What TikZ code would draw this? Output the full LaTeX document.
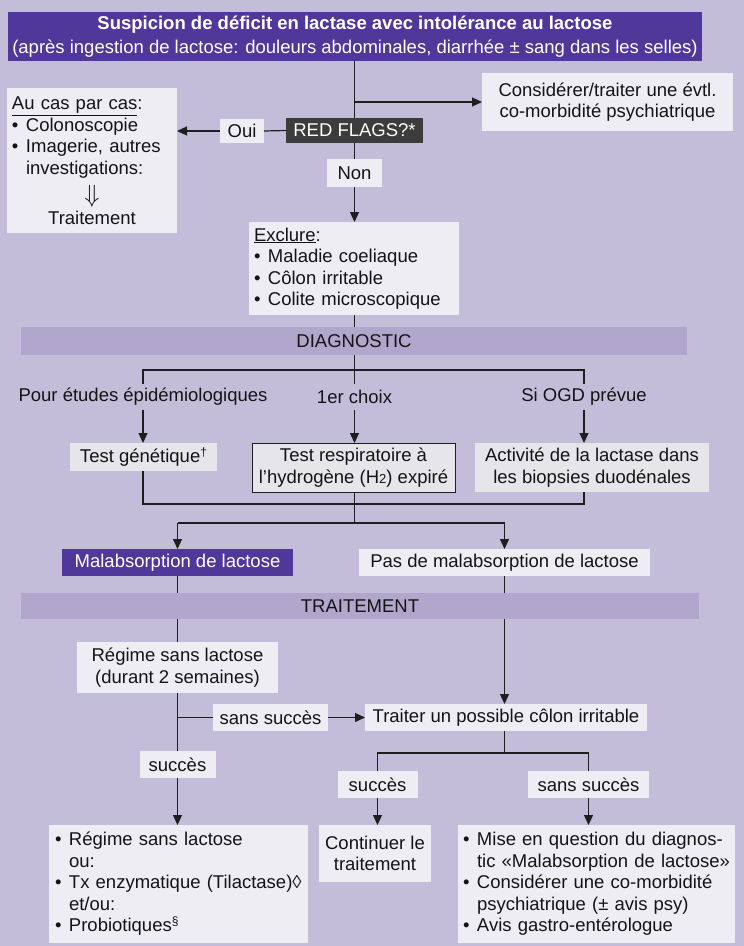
\documentclass[tikz,border=0pt]{standalone}
\usepackage{fontspec}
\setmainfont{Liberation Sans}
\usetikzlibrary{arrows.meta,calc}
\definecolor{bgc}{HTML}{C4BDDA}
\definecolor{bandc}{HTML}{B1A7CD}
\definecolor{lightc}{HTML}{EFEDF4}
\definecolor{grayc}{HTML}{E6E5E9}
\definecolor{purplec}{HTML}{50389A}
\definecolor{redc}{HTML}{3C3C3C}
\definecolor{linec}{HTML}{1E1E1E}
\definecolor{txtc}{HTML}{141414}
\newcommand{\bul}{\makebox[14pt][l]{•}}
\newcommand{\ind}{\hspace*{14pt}}
\begin{document}
\begin{tikzpicture}[x=1pt,y=-1pt,
  font=\fontsize{18.5}{21.5}\selectfont,
  every node/.style={inner sep=0pt, outer sep=0pt, text=txtc},
  lbox/.style={fill=lightc, align=center},
  gbox/.style={fill=grayc, align=center},
  band/.style={fill=bandc, align=center},
  conn/.style={draw=linec, line width=1.2pt},
  arr/.style={conn, -{Triangle[length=10pt,width=9pt]}}
]
\fill[bgc] (0,0) rectangle (744,946);
\useasboundingbox (0,0) rectangle (744,946);

% nodes
\node[fill=purplec, text=white, minimum width=694pt, minimum height=49pt, align=center,
  font=\fontsize{18.5}{23.5}\selectfont] (title) at (355,36.5)
  {\textbf{Suspicion de déficit en lactase avec intolérance au lactose}\\(après ingestion de lactose: douleurs abdominales, diarrhée ± sang dans les selles)};
\node[lbox, minimum width=251pt, minimum height=58pt] (consider) at (607.5,102)
  {Considérer/traiter une évtl.\\co-morbidité psychiatrique};
\node[fill=redc, text=white, minimum width=137pt, minimum height=25pt] (redflags) at (354.5,130.5) {RED FLAGS?*};
\node[lbox, minimum width=44pt, minimum height=24pt] (oui) at (242,131) {Oui};
\node[lbox, align=left, text width=160pt, inner xsep=5pt, minimum height=145pt] (aucas) at (92,160.5)
  {\underline{Au cas par cas}:\\\bul Colonoscopie\\\bul Imagerie, autres\\\ind investigations:\\[7pt]\makebox[160pt][c]{\fontsize{24}{24}\selectfont$\Downarrow$}\\\makebox[160pt][c]{Traitement}};
\node[lbox, minimum width=55pt, minimum height=28pt] (non) at (354.5,173) {Non};
\node[lbox, align=left, text width=200pt, inner xsep=5pt, minimum height=93pt] (exclure) at (354,268.5)
  {\underline{Exclure}:\\\bul Maladie coeliaque\\\bul Côlon irritable\\\bul Colite microscopique};
\node[band, minimum width=666pt, minimum height=28pt] (diag) at (354,341) {DIAGNOSTIC};
\node[minimum height=26pt] (epi) at (143,397) {Pour études épidémiologiques};
\node[minimum height=26pt] (choix) at (354.5,397) {1er choix};
\node[minimum height=26pt] (ogd) at (584,397) {Si OGD prévue};
\node[gbox, minimum width=147pt, minimum height=28pt] (testgen) at (143.5,457) {Test génétique{\fontsize{12}{12}\selectfont\raisebox{6pt}{†}}};
\node[gbox, draw=linec, line width=1pt, minimum width=203pt, minimum height=49pt] (testresp) at (353.5,467.5)
  {Test respiratoire à\\l’hydrogène (H{\fontsize{13}{13}\selectfont 2}) expiré};
\node[gbox, minimum width=234pt, minimum height=49pt] (activ) at (592,467.5)
  {Activité de la lactase dans\\les biopsies duodénales};
\node[fill=purplec, text=white, minimum width=231pt, minimum height=27pt] (malabs) at (177.5,562.5) {Malabsorption de lactose};
\node[lbox, minimum width=291pt, minimum height=27pt] (pasde) at (504.5,562.5) {Pas de malabsorption de lactose};
\node[band, minimum width=678pt, minimum height=26pt] (trait) at (360,606) {TRAITEMENT};
\node[lbox, minimum width=201pt, minimum height=51pt] (regime) at (177.5,667.5) {Régime sans lactose\\(durant 2 semaines)};
\node[lbox, minimum width=282pt, minimum height=27pt] (traiter) at (506,717.5) {Traiter un possible côlon irritable};
\node[lbox, minimum width=115pt, minimum height=27pt] (sans1) at (270.5,717.5) {sans succès};
\node[lbox, minimum width=76pt, minimum height=27pt] (succes1) at (177.5,764.5) {succès};
\node[lbox, minimum width=80pt, minimum height=27pt] (succes2) at (377.5,784.5) {succès};
\node[lbox, minimum width=121pt, minimum height=27pt] (sans2) at (588.5,784.5) {sans succès};
\node[lbox, align=left, text width=247pt, inner xsep=6pt, minimum height=118pt] (leftbox) at (178.5,884)
  {\bul Régime sans lactose\\\ind ou:\\\bul Tx enzymatique (Tilactase)◊\\\ind et/ou:\\\bul Probiotiques{\fontsize{12}{12}\selectfont\raisebox{6pt}{§}}};
\node[lbox, minimum width=112pt, minimum height=57pt] (continuer) at (375,853.5) {Continuer le\\traitement};
\node[lbox, align=left, text width=267pt, inner xsep=5pt, minimum height=118pt] (rightbox) at (596.5,884)
  {\bul Mise en question du diagnos-\\\ind tic «Malabsorption de lactose»\\\bul Considérer une co-morbidité\\\ind psychiatrique (± avis psy)\\\bul Avis gastro-entérologue};

% helper coordinates
\coordinate (b1) at (354.5,102);
\coordinate (h1) at (354.5,370);
\coordinate (h2) at (354.5,504);
\coordinate (h3) at (354.5,523);
\coordinate (h4) at (504.5,753);

% connectors
\draw[conn] (redflags.north |- title.south) -- (redflags.north);
\draw[arr] (b1) -- (b1 -| consider.west);
\draw[conn] (redflags.west) -- (oui.east);
\draw[arr] (oui.west) -- (oui.west -| aucas.east);
\draw[conn] (redflags.south) -- (non.north);
\draw[arr] (non.south) -- (non.south |- exclure.north);
\draw[conn] (non.south |- exclure.south) -- (non.south |- diag.north);
\draw[conn] (h1 |- diag.south) -- (choix.north);
\draw[conn] (epi.north) -- (epi.north |- h1) -- (ogd.north |- h1) -- (ogd.north);
\draw[arr] (epi.south) -- (epi.south |- testgen.north);
\draw[arr] (choix.south) -- (choix.south |- testresp.north);
\draw[arr] (ogd.south) -- (ogd.south |- activ.north);
\draw[conn] (epi.south |- testgen.south) -- (epi.south |- h2) -- (ogd.south |- h2) -- (ogd.south |- activ.south);
\draw[conn] (h1 |- testresp.south) -- (h3);
\draw[conn] (malabs.north |- h3) -- (pasde.north |- h3);
\draw[arr] (malabs.north |- h3) -- (malabs.north);
\draw[arr] (pasde.north |- h3) -- (pasde.north);
\draw[conn] (malabs.south) -- (malabs.south |- trait.north);
\draw[conn] (malabs.south |- trait.south) -- (regime.north);
\draw[conn] (pasde.south) -- (pasde.south |- trait.north);
\draw[arr] (pasde.south |- trait.south) -- (pasde.south |- traiter.north);
\draw[conn] (regime.south) -- (succes1.north);
\draw[conn] (regime.south |- sans1.west) -- (sans1.west);
\draw[arr] (sans1.east) -- (traiter.west);
\draw[arr] (succes1.south) -- (succes1.south |- leftbox.north);
\draw[conn] (pasde.south |- traiter.south) -- (h4);
\draw[conn] (succes2.north) -- (succes2.north |- h4) -- (sans2.north |- h4) -- (sans2.north);
\draw[arr] (succes2.south) -- (succes2.south |- continuer.north);
\draw[arr] (sans2.south) -- (sans2.south |- rightbox.north);
\end{tikzpicture}
\end{document}
